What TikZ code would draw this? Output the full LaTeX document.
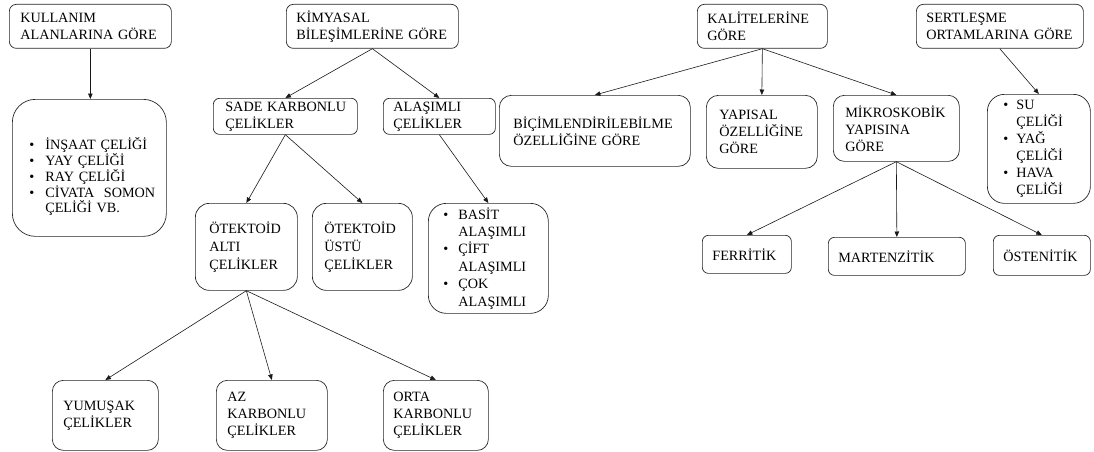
\documentclass[tikz,border=0pt]{standalone}
\usepackage{fontspec}
\setmainfont{Liberation Serif}
\usetikzlibrary{arrows.meta}
\newcommand\myb[1][15pt]{\makebox[#1][l]{\textbullet}}
\newcommand\myi[1][15pt]{\hspace*{#1}}
\begin{document}
\hyphenpenalty=10000 \exhyphenpenalty=10000 \hbadness=10000 \hfuzz=100pt
\begin{tikzpicture}[x=1pt,y=-1pt,
  box/.style={draw=black!85, line width=0.7pt, anchor=north west, align=left,
    font=\rmfamily\fontsize{14.2}{17}\selectfont, inner ysep=0pt},
  arr/.style={-{Triangle[length=5.5pt,width=4.5pt]}, line width=0.6pt, draw=black!90}]
\useasboundingbox (0,0) rectangle (1094,452);

\node[box, rounded corners=7pt, minimum width=162pt, minimum height=44pt, inner xsep=11pt, text width=140pt] (kul) at (9,4) {KULLANIM\\ALANLARINA~GÖRE};
\node[box, rounded corners=23pt, minimum width=154pt, minimum height=137pt, inner xsep=17pt, text width=120pt, font=\rmfamily\fontsize{14.2}{15.8}\selectfont] (kulL) at (12,99)
  {\rule{0pt}{30pt}\myb[16pt]İNŞAAT~ÇELİĞİ\\\myb[16pt]YAY~ÇELİĞİ\\\myb[16pt]RAY~ÇELİĞİ\\\myb[16pt]CİVATA~~SOMON\\\myi[16pt]ÇELİĞİ~VB.};

\node[box, rounded corners=7pt, minimum width=172pt, minimum height=44pt, inner xsep=10pt, text width=152pt] (kim) at (286,4) {KİMYASAL\\BİLEŞİMLERİNE~GÖRE};
\node[box, rounded corners=6pt, minimum width=144pt, minimum height=36pt, inner xsep=12pt, text width=120pt] (sade) at (213,98) {SADE~KARBONLU\\ÇELİKLER};
\node[box, rounded corners=6pt, minimum width=112pt, minimum height=36pt, inner xsep=10pt, text width=92pt] (alas) at (383,98) {ALAŞIMLI\\ÇELİKLER};
\node[box, rounded corners=14pt, minimum width=102pt, minimum height=87pt, inner xsep=14pt, text width=74pt, font=\rmfamily\fontsize{14.2}{18}\selectfont] (alti) at (195,203) {ÖTEKTOİD\\ALTI\\ÇELİKLER};
\node[box, rounded corners=14pt, minimum width=100pt, minimum height=87pt, inner xsep=12pt, text width=76pt, font=\rmfamily\fontsize{14.2}{18}\selectfont] (ustu) at (312,203) {ÖTEKTOİD\\ÜSTÜ\\ÇELİKLER};
\node[box, rounded corners=18pt, minimum width=120pt, minimum height=110pt, inner xsep=15pt, text width=90pt, font=\rmfamily\fontsize{14.2}{17.4}\selectfont] (alasL) at (428,203)
  {\myb BASİT\\\myi ALAŞIMLI\\\myb ÇİFT\\\myi ALAŞIMLI\\\myb ÇOK\\\myi ALAŞIMLI};
\node[box, rounded corners=11pt, minimum width=106pt, minimum height=70pt, inner xsep=11pt, text width=84pt] (yum) at (52,380) {YUMUŞAK\\ÇELİKLER};
\node[box, rounded corners=11pt, minimum width=111pt, minimum height=70pt, inner xsep=11pt, text width=89pt] (az) at (216,380) {AZ\\KARBONLU\\ÇELİKLER};
\node[box, rounded corners=11pt, minimum width=105pt, minimum height=70pt, inner xsep=10pt, text width=85pt] (orta) at (383,380) {ORTA\\KARBONLU\\ÇELİKLER};

\node[box, rounded corners=12pt, minimum width=191pt, minimum height=71pt, inner xsep=14pt, text width=163pt] (bic) at (499,95) {BİÇİMLENDİRİLEBİLME\\ÖZELLİĞİNE~GÖRE};
\node[box, rounded corners=7pt, minimum width=130pt, minimum height=44pt, inner xsep=10pt, text width=110pt] (kal) at (697,4) {KALİTELERİNE\\GÖRE};
\node[box, rounded corners=12pt, minimum width=111pt, minimum height=73pt, inner xsep=13pt, text width=85pt] (yap) at (706,95) {YAPISAL\\ÖZELLİĞİNE\\GÖRE};
\node[box, rounded corners=11pt, minimum width=126pt, minimum height=66pt, inner xsep=12pt, text width=102pt] (mik) at (833,95) {MİKROSKOBİK\\YAPISINA\\GÖRE};
\node[box, rounded corners=7pt, minimum width=167pt, minimum height=44pt, inner xsep=10pt, text width=147pt] (ser) at (916,4) {SERTLEŞME\\ORTAMLARINA~GÖRE};
\node[box, rounded corners=17pt, minimum width=103pt, minimum height=109pt, inner xsep=16pt, text width=71pt] (suL) at (987,94)
  {\myb[13pt]SU\\\myi[13pt]ÇELİĞİ\\\myb[13pt]YAĞ\\\myi[13pt]ÇELİĞİ\\\myb[13pt]HAVA\\\myi[13pt]ÇELİĞİ};
\node[box, rounded corners=6pt, minimum width=89pt, minimum height=38pt, inner xsep=10pt, text width=69pt] (fer) at (702,235) {FERRİTİK};
\node[box, rounded corners=6pt, minimum width=137pt, minimum height=38pt, inner xsep=10pt, text width=117pt] (mar) at (828,237) {MARTENZİTİK};
\node[box, rounded corners=6pt, minimum width=97pt, minimum height=40pt, inner xsep=10pt, text width=77pt] (ost) at (993,235) {ÖSTENİTİK};

\draw[arr] (kul.south) -- (kul.south |- kulL.north);
\draw[arr] (kim.south) -- (sade.north);
\draw[arr] (kim.south) -- (alas.north);
\draw[arr] (sade.south) -- (alti.north);
\draw[arr] (sade.south) -- (ustu.north);
\draw[arr] (alas.south) -- (alasL.north);
\draw[arr] (alti.south) -- (yum.north);
\draw[arr] (alti.south) -- (az.north);
\draw[arr] (alti.south) -- (orta.north);
\draw[arr] (kal.south) -- (bic.north);
\draw[arr] (kal.south) -- (yap.north);
\draw[arr] (kal.south) -- (mik.north);
\draw[arr] (ser.south) -- (suL.north);
\draw[arr] (mik.south) -- (fer.north);
\draw[arr] (mik.south) -- (mar.north);
\draw[arr] (mik.south) -- (ost.north);
\end{tikzpicture}
\end{document}
